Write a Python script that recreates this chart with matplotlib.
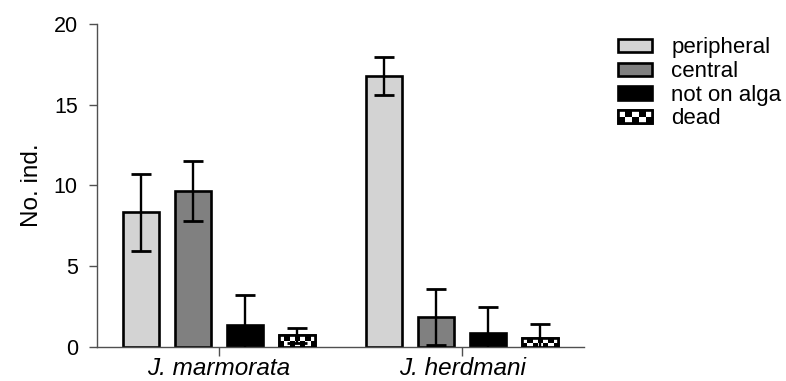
import numpy as np
import matplotlib
matplotlib.use("Agg")
import matplotlib.pyplot as plt
from matplotlib.patches import Rectangle
from matplotlib.legend_handler import HandlerBase

plt.rcParams['font.family'] = ['Liberation Sans', 'DejaVu Sans']

# Species groups and position categories
groups = ['J. marmorata', 'J. herdmani']
categories = ['peripheral', 'central', 'not on alga', 'dead']

# Mean number of individuals per species
peripheral = [8.33, 16.8]
central = [9.68, 1.85]
not_on_alga = [1.35, 0.88]
dead = [0.72, 0.54]

# Error (symmetric) per species
peripheral_err = [2.4, 1.18]
central_err = [1.86, 1.72]
not_on_alga_err = [1.85, 1.57]
dead_err = [0.45, 0.86]

series = [peripheral, central, not_on_alga, dead]
series_err = [peripheral_err, central_err, not_on_alga_err, dead_err]
colors = ['#d3d3d3', '#808080', '#000000', '#000000']

W, H = 786, 381
fig = plt.figure(figsize=(W / 100, H / 100), dpi=100)
ax = fig.add_axes([97 / W, 34 / H, (584 - 97) / W, (347 - 24) / H])

x = np.arange(len(groups))
bar_w = 0.148
step = 0.213
edge_lw = 1.9

containers = []
for i, (vals, errs, col, lab) in enumerate(zip(series, series_err, colors, categories)):
    pos = x + (i - 1.5) * step
    bc = ax.bar(pos, vals, width=bar_w, color=col, edgecolor='black',
                linewidth=edge_lw, label=lab, zorder=2)
    ax.errorbar(pos, vals, yerr=errs, fmt='none', ecolor='black',
                elinewidth=1.7, capsize=7, capthick=2.0, zorder=4)
    containers.append(bc)

ax.set_xlim(-0.5, 1.5)
ax.set_ylim(0, 20)

# Checkerboard fill for the "dead" bars
px_per_x = (584 - 97) / 2.0
px_per_y = (347 - 24) / 20.0
cell = 5.0
for rect in containers[3].patches:
    x0, y0 = rect.get_x(), rect.get_y()
    w, h = rect.get_width(), rect.get_height()
    nx = max(1, int(round(w * px_per_x / cell)))
    ny = max(1, int(round(h * px_per_y / cell)))
    board = (np.add.outer(np.arange(ny), np.arange(nx)) % 2).astype(float)
    im = ax.imshow(board, cmap='gray', vmin=0, vmax=1, extent=(x0, x0 + w, y0, y0 + h),
                   aspect='auto', interpolation='nearest', zorder=2.5, origin='lower')
    im.set_clip_path(rect)
    ax.add_patch(Rectangle((x0, y0), w, h, fill=False, edgecolor='black',
                           linewidth=edge_lw, zorder=3))
ax.set_xlim(-0.5, 1.5)
ax.set_ylim(0, 20)
ax.set_aspect('auto')

# Axes styling
for side in ['top', 'right']:
    ax.spines[side].set_visible(False)
for side in ['left', 'bottom']:
    ax.spines[side].set_color('#505050')
    ax.spines[side].set_linewidth(1.0)

ax.set_yticks([0, 5, 10, 15, 20])
ax.tick_params(axis='y', length=5.8, width=1.0, color='#505050', labelsize=15.5, pad=8)
ax.set_xticks(x)
ax.set_xticklabels(groups, fontsize=17.5, fontstyle='italic')
ax.tick_params(axis='x', length=6.5, width=1.0, color='#505050', pad=1)
ax.set_ylabel('No. ind.', fontsize=17.5, labelpad=8)


class CheckerHandler(HandlerBase):
    def create_artists(self, legend, orig_handle, xdescent, ydescent,
                       width, height, fontsize, trans):
        x0, y0 = -xdescent, -ydescent
        arts = [Rectangle((x0, y0), width, height, facecolor='black',
                          edgecolor='black', linewidth=edge_lw, transform=trans)]
        ncol, nrow = 5, 2
        cw, ch = width / ncol, height / nrow
        for r in range(nrow):
            for c in range(ncol):
                if (r + c) % 2 == 0:
                    arts.append(Rectangle((x0 + c * cw, y0 + (nrow - 1 - r) * ch), cw, ch,
                                          facecolor='white', edgecolor='none',
                                          transform=trans))
        arts.append(Rectangle((x0, y0), width, height, fill=False,
                              edgecolor='black', linewidth=edge_lw, transform=trans))
        return arts


leg = fig.legend(containers, categories, loc='upper left',
                 bbox_to_anchor=(618 / W, 1 - 37.5 / H), frameon=False,
                 fontsize=16, handlelength=1.55, handleheight=0.55,
                 handletextpad=0.85, labelspacing=0.12, borderpad=0,
                 borderaxespad=0,
                 handler_map={containers[3]: CheckerHandler()})

fig.savefig('out.png', dpi=100)
